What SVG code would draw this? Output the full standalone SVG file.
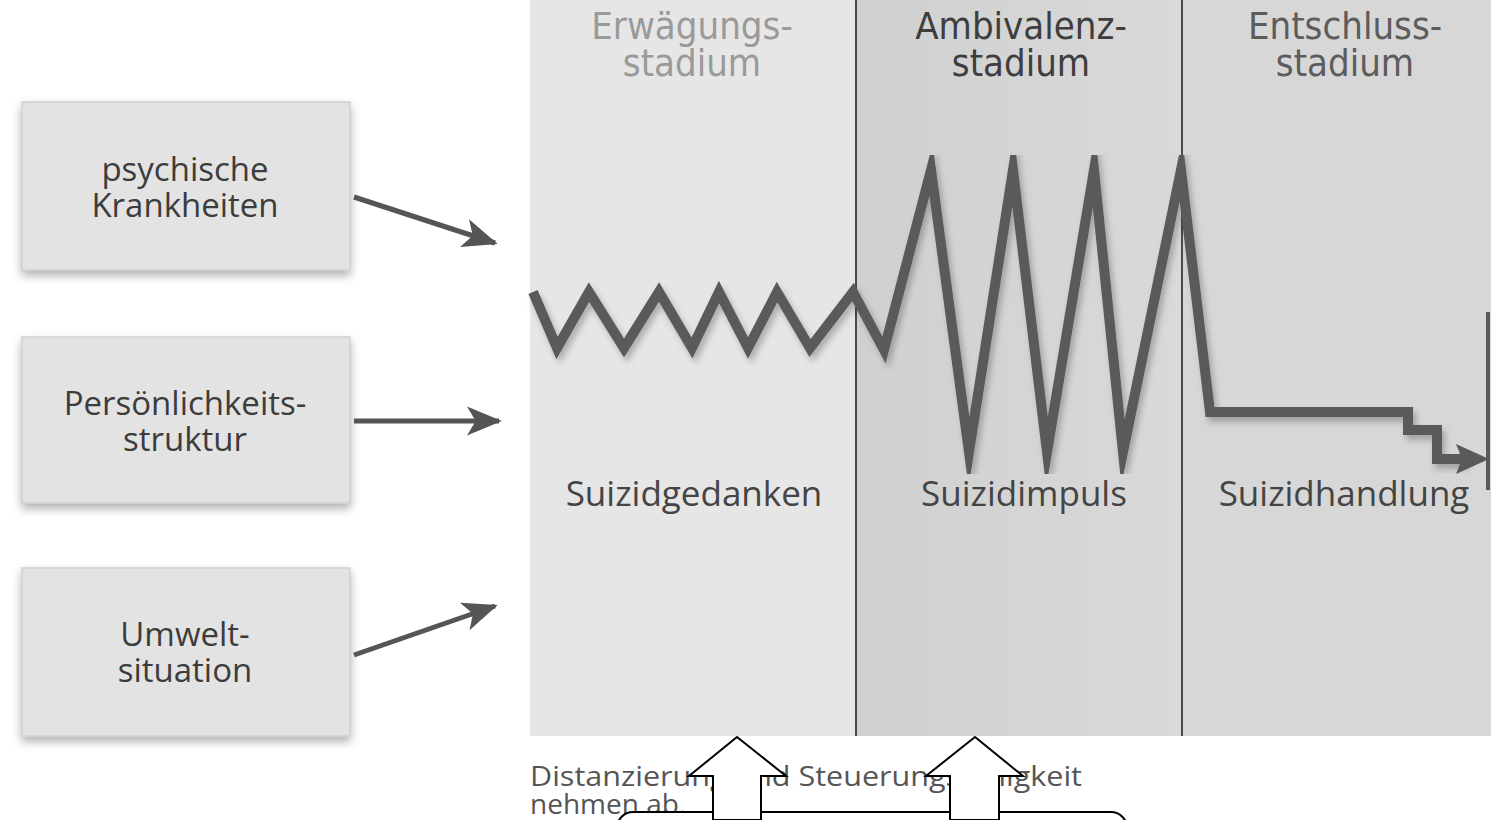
<svg xmlns="http://www.w3.org/2000/svg" width="1491" height="820" viewBox="0 0 1491 820">
<defs>
<style>
.box{fill:#e3e3e3;stroke:#d0d0d0;stroke-width:1.5}
.bt{font-family:"Open Sans","Liberation Sans",sans-serif;font-size:33px;fill:#3c3c3c;text-anchor:middle}
.hd{font-family:"Liberation Sans Narrow","DejaVu Sans Condensed","Liberation Sans",sans-serif;font-size:38px;text-anchor:middle}
.lb{font-family:"Open Sans","Liberation Sans",sans-serif;font-size:35px;fill:#444;text-anchor:middle}
.ft{font-family:"Open Sans","Liberation Sans",sans-serif;font-size:28px;fill:#555}
.conn{stroke:#555;stroke-width:5;fill:none}
.div{stroke:#4a4a4a;stroke-width:2}
.blk{fill:#fff;stroke:#000;stroke-width:2;stroke-linejoin:miter}
</style>
<filter id="sh" x="-20%" y="-20%" width="140%" height="150%">
<feDropShadow dx="0" dy="5" stdDeviation="5" flood-color="#000" flood-opacity="0.3"/>
</filter>
<filter id="lsh" x="-5%" y="-5%" width="110%" height="110%">
<feDropShadow dx="3" dy="5" stdDeviation="3" flood-color="#000" flood-opacity="0.25"/>
</filter>
<marker id="ah" viewBox="0 0 12 10" refX="11" refY="5" markerWidth="7" markerHeight="6" orient="auto" markerUnits="strokeWidth">
<path d="M0,0 L12,5 L0,10 L3,5 z" fill="#555"/>
</marker>
<linearGradient id="mid" x1="0" y1="0" x2="1" y2="0">
<stop offset="0" stop-color="#d0d0d0"/>
<stop offset="1" stop-color="#d9d9d9"/>
</linearGradient>
</defs>
<rect width="1491" height="820" fill="#fff"/>
<g id="panel">
<rect x="530" y="0" width="326" height="736" fill="#e6e6e6"/>
<rect x="856" y="0" width="326" height="736" fill="url(#mid)"/>
<rect x="1182" y="0" width="309" height="736" fill="#d7d7d7"/>
<line class="div" x1="856" y1="0" x2="856" y2="736"/>
<line class="div" x1="1182" y1="0" x2="1182" y2="736"/>
</g>
<g id="headers">
<text class="hd" fill="#9a9a9a"><tspan x="692" y="39">Erwägungs-</tspan><tspan x="692" y="76">stadium</tspan></text>
<text class="hd" fill="#3e3e3e"><tspan x="1021" y="39">Ambivalenz-</tspan><tspan x="1021" y="76">stadium</tspan></text>
<text class="hd" fill="#5c5c5c"><tspan x="1345" y="39">Entschluss-</tspan><tspan x="1345" y="76">stadium</tspan></text>
</g>
<g id="curve">
<polyline filter="url(#lsh)" fill="none" stroke="#5a5a5a" stroke-width="10" stroke-linejoin="miter" stroke-miterlimit="10" points="533,292 557,348 589,292 624,348 659,292 692,348 719,292 748,348 777,292 810,348 853,292 884,350 931,170 969,452 1013,170 1047,452 1094,170 1123,452 1181,170 1210,412 1408,412 1408,430 1437,430 1437,459 1466,459"/>
<path d="M1456,444 L1489,459 L1456,474 L1462,459 Z" fill="#5a5a5a"/>
<rect x="1486" y="312" width="4" height="178" fill="#5a5a5a"/>
</g>
<g id="labels">
<text class="lb" x="694" y="506">Suizidgedanken</text>
<text class="lb" x="1024" y="506">Suizidimpuls</text>
<text class="lb" x="1344" y="506">Suizidhandlung</text>
</g>
<g id="box1">
<rect class="box" x="22" y="102" width="328" height="168" filter="url(#sh)"/>
<text class="bt"><tspan x="185" y="181">psychische</tspan><tspan x="185" y="217">Krankheiten</tspan></text>
</g>
<g id="box2">
<rect class="box" x="22" y="337" width="328" height="166" filter="url(#sh)"/>
<text class="bt"><tspan x="185" y="415">Persönlichkeits-</tspan><tspan x="185" y="451">struktur</tspan></text>
</g>
<g id="box3">
<rect class="box" x="22" y="568" width="328" height="168" filter="url(#sh)"/>
<text class="bt"><tspan x="185" y="646">Umwelt-</tspan><tspan x="185" y="682">situation</tspan></text>
</g>
<g id="connectors">
<line class="conn" x1="354" y1="197" x2="495" y2="243" marker-end="url(#ah)"/>
<line class="conn" x1="354" y1="421" x2="499" y2="421" marker-end="url(#ah)"/>
<line class="conn" x1="354" y1="655" x2="495" y2="606" marker-end="url(#ah)"/>
</g>
<g id="footer">
<text class="ft" x="530" y="786" textLength="552" lengthAdjust="spacingAndGlyphs">Distanzierung und Steuerungsfähigkeit</text>
<text class="ft" x="530" y="814">nehmen ab.</text>
</g>
<g id="callout">
<rect class="blk" x="617" y="812" width="510" height="60" rx="16"/>
<path class="blk" d="M737,737 L786,776 L761,776 L761,820 L713,820 L713,776 L689,776 Z"/>
<path class="blk" d="M975,737 L1023,776 L999,776 L999,820 L950,820 L950,776 L926,776 Z"/>
</g>
</svg>
